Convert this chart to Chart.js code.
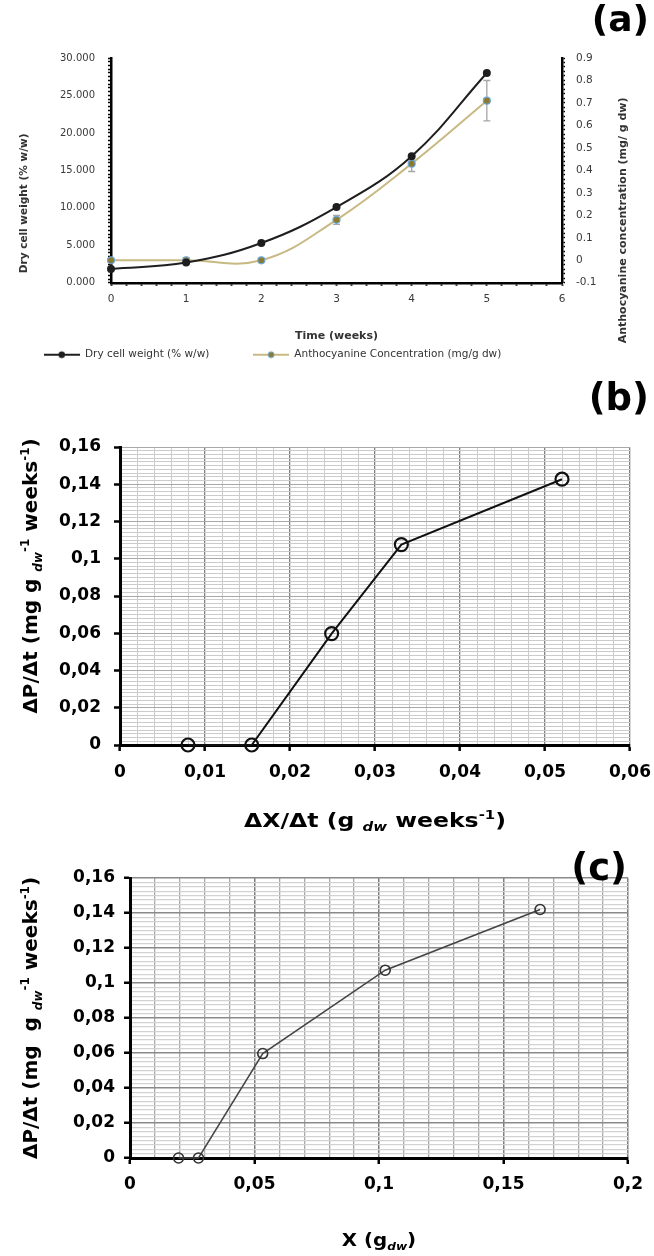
<!DOCTYPE html>
<html><head><meta charset="utf-8">
<script src="https://cdn.jsdelivr.net/npm/chart.js@4.4.1/dist/chart.umd.min.js"></script>
<style>
html,body{margin:0;padding:0;background:#fff;}
body{width:654px;height:1256px;position:relative;overflow:hidden;}
canvas{position:absolute;left:0;}
</style></head><body>
<canvas id="cC" width="654" height="426" style="top:830px"></canvas>
<canvas id="cB" width="654" height="472" style="top:370px"></canvas>
<canvas id="cA" width="654" height="370" style="top:0px"></canvas>
<script>
// ---------- DATA ----------
const weeks = [0, 1, 2, 3, 4, 5];
const dryCellWeight = [1.85, 2.7, 5.3, 10.1, 16.9, 28.0];
const anthocyanin = [0.0, 0.0, 0.0, 0.18, 0.43, 0.71];
const anthocyaninErr = [0.005, 0.01, 0.005, 0.02, 0.035, 0.09];
const seriesNamesA = ['Dry cell weight (% w/w)', 'Anthocyanine Concentration (mg/g dw)'];

const growthRateB = [0.008, 0.0155, 0.0249, 0.0331, 0.052];
const prodRateB = [0, 0, 0.0598, 0.1076, 0.1427];

const biomassC = [0.0195, 0.0275, 0.0533, 0.1025, 0.1647];
const prodRateC = [0, 0, 0.0597, 0.1073, 0.142];

const dcwTickLabels = ['0.000', '5.000', '10.000', '15.000', '20.000', '25.000', '30.000'];
const anthoTickLabels = ['-0.1', '0', '0.1', '0.2', '0.3', '0.4', '0.5', '0.6', '0.7', '0.8', '0.9'];
const weekTickLabels = ['0', '1', '2', '3', '4', '5', '6'];
const bXTickLabels = ['0', '0,01', '0,02', '0,03', '0,04', '0,05', '0,06'];
const rateTickLabels = ['0', '0,02', '0,04', '0,06', '0,08', '0,1', '0,12', '0,14', '0,16'];
const cXTickLabels = ['0', '0,05', '0,1', '0,15', '0,2'];

// ---------- helpers ----------
function isMajor(v, min, step) {
  const k = (v - min) / step;
  return Math.abs(k - Math.round(k)) < 1e-6;
}
function labelFrom(labels, min, step) {
  return (v) => isMajor(v, min, step) ? labels[Math.round((v - min) / step)] : '';
}
function legendIcon(line, fill, stroke) {
  const c = document.createElement('canvas');
  c.width = 36; c.height = 10;
  const g = c.getContext('2d');
  g.strokeStyle = line; g.lineWidth = 2;
  g.beginPath(); g.moveTo(0, 5); g.lineTo(36, 5); g.stroke();
  g.fillStyle = fill; g.strokeStyle = stroke; g.lineWidth = 1;
  g.beginPath(); g.arc(18, 5, 3, 0, Math.PI * 2); g.fill(); g.stroke();
  return c;
}
function fixX(height) {
  return s => { s.height = height; s.paddingLeft = 0; s.paddingRight = 0; };
}

const fontA = '"DejaVu Sans", Verdana, sans-serif';
const fontBC = '"DejaVu Sans", Verdana, sans-serif';

// axis titles with sub/superscripts + panel letters, anchored on the chart area
const titleSpecs = {
  cA: [
    { edge: 'bottom', offset: 52, size: 11, family: fontA, color: '#333', segments: [{ text: 'Time (weeks)' }] },
    { edge: 'left', offset: 88, shift: 33, size: 10.5, family: fontA, color: '#333', segments: [{ text: 'Dry cell weight (% w/w)' }] },
    { edge: 'right', offset: 60, shift: 50, size: 11, family: fontA, color: '#333', segments: [{ text: 'Anthocyanine concentration (mg/ g dw)' }] },
    { edge: 'abs', x: 649, y: 31, size: 36, family: fontBC, segments: [{ text: '(a)' }] }
  ],
  cB: [
    { edge: 'bottom', offset: 75, size: 19, stretch: 1.24, family: fontBC, segments: [
      { text: 'ΔX/Δt (g ' }, { text: 'dw', sub: true, italic: true }, { text: ' weeks' }, { text: '-1', sup: true }, { text: ')' }] },
    { edge: 'left', offset: 90, shift: -20, size: 20, family: fontBC, segments: [
      { text: 'ΔP/Δt (mg g ' }, { text: 'dw', sub: true, italic: true }, { text: '-1', sup: true }, { text: ' weeks' }, { text: '-1', sup: true }, { text: ')' }] },
    { edge: 'abs', x: 649, y: 40, size: 37, family: fontBC, segments: [{ text: '(b)' }] }
  ],
  cC: [
    { edge: 'bottom', offset: 82, size: 18, stretch: 1.1, family: fontBC, segments: [
      { text: 'X (g' }, { text: 'dw', sub: true, italic: true }, { text: ')' }] },
    { edge: 'left', offset: 100, shift: 0, size: 20, family: fontBC, segments: [
      { text: 'ΔP/Δt (mg  g ' }, { text: 'dw', sub: true, italic: true }, { text: '-1', sup: true }, { text: ' weeks' }, { text: '-1', sup: true }, { text: ')' }] },
    { edge: 'abs', x: 627, y: 50, size: 37, family: fontBC, segments: [{ text: '(c)' }] }
  ]
};

const richTitles = {
  id: 'richTitles',
  afterDraw(chart) {
    const items = titleSpecs[chart.canvas.id] || [];
    const ctx = chart.ctx, a = chart.chartArea;
    items.forEach(it => {
      const size = it.size, fam = it.family, wt = it.weight || 'bold';
      const fontFor = s => `${s.italic ? 'italic ' : ''}${wt} ${(s.sub || s.sup) ? Math.round(size * 0.62) : size}px ${fam}`;
      ctx.save();
      const widths = [];
      let total = 0;
      it.segments.forEach(s => { ctx.font = fontFor(s); const w = ctx.measureText(s.text).width; widths.push(w); total += w; });
      let cx, cy, rot = 0;
      const shift = it.shift || 0;
      if (it.edge === 'bottom') { cx = (a.left + a.right) / 2 + shift; cy = a.bottom + it.offset; }
      else if (it.edge === 'left') { cx = a.left - it.offset; cy = (a.top + a.bottom) / 2 + shift; rot = -Math.PI / 2; }
      else if (it.edge === 'right') { cx = a.right + it.offset; cy = (a.top + a.bottom) / 2 + shift; rot = -Math.PI / 2; }
      else { cx = it.x; cy = it.y; }
      ctx.translate(cx, cy); ctx.rotate(rot);
      if (it.stretch) ctx.scale(it.stretch, 1);
      ctx.textBaseline = 'alphabetic'; ctx.textAlign = 'left';
      ctx.fillStyle = it.color || '#000';
      let x = it.edge === 'abs' ? -total : -total / 2;
      const base = it.edge === 'abs' ? 0 : size * 0.36;
      it.segments.forEach((s, i) => {
        ctx.font = fontFor(s);
        let dy = 0;
        if (s.sup) dy = -size * 0.42;
        if (s.sub) dy = size * 0.22;
        ctx.fillText(s.text, x, base + dy);
        x += widths[i];
      });
      ctx.restore();
    });
  }
};

// error bars for anthocyanin (drawn through the chart's scales)
const errorBars = {
  id: 'errorBars',
  beforeDatasetsDraw(chart) {
    if (chart.canvas.id !== 'cA') return;
    const ctx = chart.ctx, xs = chart.scales.x, ys = chart.scales.y1;
    ctx.save();
    ctx.strokeStyle = '#a6a6a6'; ctx.lineWidth = 1.3;
    weeks.forEach((w, i) => {
      const px = xs.getPixelForValue(w);
      const t = ys.getPixelForValue(anthocyanin[i] + anthocyaninErr[i]);
      const b = ys.getPixelForValue(anthocyanin[i] - anthocyaninErr[i]);
      ctx.beginPath();
      ctx.moveTo(px, t); ctx.lineTo(px, b);
      ctx.moveTo(px - 3.5, t); ctx.lineTo(px + 3.5, t);
      ctx.moveTo(px - 3.5, b); ctx.lineTo(px + 3.5, b);
      ctx.stroke();
    });
    ctx.restore();
  }
};

Chart.register(richTitles, errorBars);

// ---------- PANEL (a) ----------
new Chart(document.getElementById('cA'), {
  type: 'line',
  data: {
    datasets: [
      {
        label: seriesNamesA[0],
        data: weeks.map((w, i) => ({ x: w, y: dryCellWeight[i] })),
        yAxisID: 'y', borderColor: '#1e1e1e', borderWidth: 2,
        pointRadius: 3, pointBackgroundColor: '#1e1e1e', pointBorderColor: '#1e1e1e',
        tension: 0.4, clip: false
      },
      {
        label: seriesNamesA[1],
        data: weeks.map((w, i) => ({ x: w, y: anthocyanin[i] })),
        yAxisID: 'y1', borderColor: '#c8b983', borderWidth: 2,
        pointRadius: 3.5, pointBackgroundColor: '#8c7b2e', pointBorderColor: '#6fa6d6', pointBorderWidth: 1.2,
        tension: 0.4, clip: false
      }
    ]
  },
  options: {
    responsive: false, animation: false, devicePixelRatio: 1,
    layout: { padding: { top: 58, left: 0, right: 0, bottom: 0 } },
    scales: {
      x: {
        type: 'linear', min: 0, max: 6,
        afterFit: fixX(23),
        ticks: { stepSize: 0.2, autoSkip: false, maxRotation: 0, minRotation: 0, padding: 7,
          color: '#3a3a3a', font: { family: fontA, size: 10.5 }, callback: labelFrom(weekTickLabels, 0, 1) },
        grid: { drawOnChartArea: false, drawTicks: true, tickLength: 3, tickColor: '#000', tickWidth: 2 },
        border: { display: true, color: '#000', width: 2.5 }
      },
      y: {
        type: 'linear', position: 'left', min: 0, max: 30,
        afterFit: s => { s.width = 111; },
        ticks: { stepSize: 0.5, autoSkip: false, padding: 13,
          color: '#3a3a3a', font: { family: fontA, size: 10 }, callback: labelFrom(dcwTickLabels, 0, 5) },
        grid: { drawOnChartArea: false, drawTicks: true, tickLength: 3, tickColor: '#000', tickWidth: 1.5 },
        border: { display: true, color: '#000', width: 2.5 }
      },
      y1: {
        type: 'linear', position: 'right', min: -0.1, max: 0.9,
        afterFit: s => { s.width = 92; },
        ticks: { stepSize: 0.02, autoSkip: false, padding: 11,
          color: '#3a3a3a', font: { family: fontA, size: 10.5 }, callback: labelFrom(anthoTickLabels, -0.1, 0.1) },
        grid: { drawOnChartArea: false, drawTicks: true, tickLength: 3, tickColor: '#000', tickWidth: 1.5 },
        border: { display: true, color: '#000', width: 2.5 }
      }
    },
    plugins: {
      tooltip: { enabled: false },
      legend: {
        position: 'bottom', align: 'start',
        labels: {
          usePointStyle: true, pointStyleWidth: 36, padding: 43.75,
          color: '#333', font: { family: fontA, size: 10.5 },
          generateLabels: (chart) => {
            const items = Chart.defaults.plugins.legend.labels.generateLabels(chart);
            items[0].pointStyle = legendIcon('#1e1e1e', '#1e1e1e', '#1e1e1e');
            items[1].pointStyle = legendIcon('#c8b983', '#8c7b2e', '#6fa6d6');
            return items;
          }
        }
      }
    }
  }
});

// ---------- PANEL (b) ----------
new Chart(document.getElementById('cB'), {
  type: 'line',
  data: {
    datasets: [{
      label: 'ΔP/Δt vs ΔX/Δt',
      data: growthRateB.map((x, i) => ({ x, y: prodRateB[i] })),
      borderColor: '#111', borderWidth: 2, tension: 0,
      pointRadius: 6.5, pointBorderWidth: 2.2, pointBorderColor: '#111',
      pointBackgroundColor: 'rgba(255,255,255,0)', clip: false
    }]
  },
  options: {
    responsive: false, animation: false, devicePixelRatio: 1,
    layout: { padding: { top: 77, left: 0, right: 24, bottom: 0 } },
    scales: {
      x: {
        type: 'linear', min: 0, max: 0.06,
        afterFit: fixX(97),
        ticks: { stepSize: 0.002, autoSkip: false, maxRotation: 0, minRotation: 0, padding: 11,
          color: '#000', font: { family: fontBC, size: 17, weight: 'bold' }, callback: labelFrom(bXTickLabels, 0, 0.01) },
        grid: {
          color: c => isMajor(c.tick.value, 0, 0.01) ? '#808080' : '#cbcbcb',
          lineWidth: c => isMajor(c.tick.value, 0, 0.01) ? 1.3 : 1,
          tickColor: c => isMajor(c.tick.value, 0, 0.01) ? '#000' : 'rgba(0,0,0,0)',
          tickLength: 6, tickWidth: 2.5
        },
        border: { display: true, color: '#000', width: 3 }
      },
      y: {
        type: 'linear', min: 0, max: 0.16,
        afterFit: s => { s.width = 120; },
        ticks: { stepSize: 0.002, autoSkip: false, padding: 13,
          color: '#000', font: { family: fontBC, size: 17, weight: 'bold' }, callback: labelFrom(rateTickLabels, 0, 0.02) },
        grid: {
          color: c => isMajor(c.tick.value, 0, 0.02) ? '#a8a8a8' : '#cbcbcb',
          lineWidth: 1,
          tickColor: c => isMajor(c.tick.value, 0, 0.02) ? '#000' : 'rgba(0,0,0,0)',
          tickLength: 6, tickWidth: 2.5
        },
        border: { display: true, color: '#000', width: 3 }
      }
    },
    plugins: { legend: { display: false }, tooltip: { enabled: false } }
  }
});

// ---------- PANEL (c) ----------
new Chart(document.getElementById('cC'), {
  type: 'line',
  data: {
    datasets: [{
      label: 'ΔP/Δt vs X',
      data: biomassC.map((x, i) => ({ x, y: prodRateC[i] })),
      borderColor: '#444', borderWidth: 1.5, tension: 0,
      pointRadius: 5, pointBorderWidth: 1.6, pointBorderColor: '#333',
      pointBackgroundColor: 'rgba(255,255,255,0)', clip: false
    }]
  },
  options: {
    responsive: false, animation: false, devicePixelRatio: 1,
    layout: { padding: { top: 48, left: 0, right: 26, bottom: 0 } },
    scales: {
      x: {
        type: 'linear', min: 0, max: 0.2,
        afterFit: fixX(98),
        ticks: { stepSize: 0.01, autoSkip: false, maxRotation: 0, minRotation: 0, padding: 10,
          color: '#000', font: { family: fontBC, size: 17, weight: 'bold' }, callback: labelFrom(cXTickLabels, 0, 0.05) },
        grid: {
          color: c => isMajor(c.tick.value, 0, 0.05) ? '#7c7c7c' : '#a9a9a9',
          lineWidth: c => isMajor(c.tick.value, 0, 0.05) ? 1.5 : 1.3,
          tickColor: c => isMajor(c.tick.value, 0, 0.05) ? '#000' : 'rgba(0,0,0,0)',
          tickLength: 6, tickWidth: 2.5
        },
        border: { display: true, color: '#000', width: 3 }
      },
      y: {
        type: 'linear', min: 0, max: 0.16,
        afterFit: s => { s.width = 130; },
        ticks: { stepSize: 0.0025, autoSkip: false, padding: 9,
          color: '#000', font: { family: fontBC, size: 17, weight: 'bold' }, callback: labelFrom(rateTickLabels, 0, 0.02) },
        grid: {
          color: c => isMajor(c.tick.value, 0, 0.02) ? '#8a8a8a' : '#d2d2d2',
          lineWidth: c => isMajor(c.tick.value, 0, 0.02) ? 1.5 : 1.2,
          tickColor: c => isMajor(c.tick.value, 0, 0.02) ? '#000' : 'rgba(0,0,0,0)',
          tickLength: 6, tickWidth: 2.5
        },
        border: { display: true, color: '#000', width: 3 }
      }
    },
    plugins: { legend: { display: false }, tooltip: { enabled: false } }
  }
});
</script>
</body></html>
